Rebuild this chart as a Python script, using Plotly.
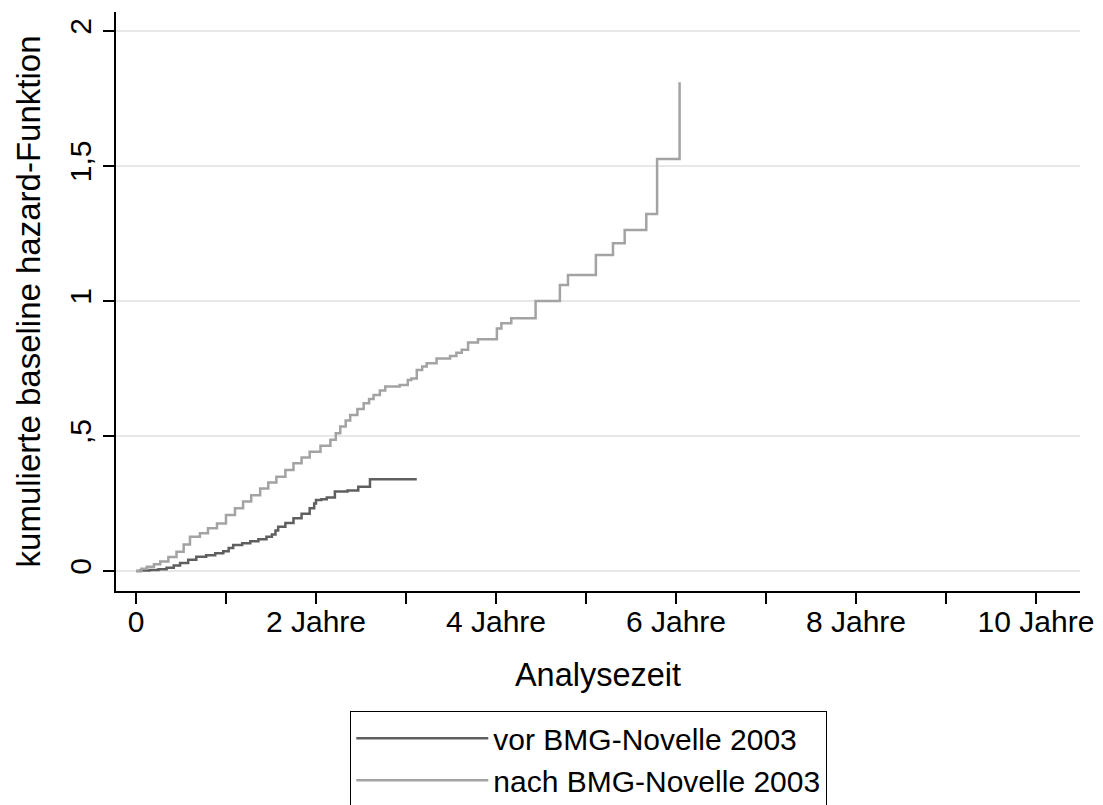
import plotly.graph_objects as go

# Data (analysis time in years, cumulative baseline hazard)
vor_t = [0.00, 0.05, 0.15, 0.25, 0.34, 0.42, 0.49, 0.58, 0.67, 0.78, 0.88, 0.97,
         1.03, 1.08, 1.18, 1.27, 1.36, 1.45, 1.51, 1.55, 1.58, 1.66, 1.75, 1.84,
         1.93, 1.98, 2.00, 2.06, 2.12, 2.21, 2.35, 2.47, 2.60, 3.12]
vor_h = [0.000, 0.002, 0.004, 0.007, 0.012, 0.020, 0.030, 0.042, 0.053, 0.058, 0.066, 0.073,
         0.085, 0.096, 0.103, 0.110, 0.118, 0.127, 0.135, 0.150, 0.164, 0.178, 0.195, 0.212,
         0.232, 0.250, 0.263, 0.266, 0.272, 0.294, 0.298, 0.312, 0.340, 0.340]

nach_t = [0.00, 0.06, 0.12, 0.20, 0.27, 0.36, 0.45, 0.53, 0.60, 0.71, 0.80, 0.90,
          1.00, 1.10, 1.19, 1.28, 1.38, 1.47, 1.56, 1.66, 1.75, 1.84, 1.93, 2.05,
          2.16, 2.22, 2.27, 2.33, 2.38, 2.46, 2.53, 2.59, 2.64, 2.71, 2.77, 2.93,
          3.02, 3.06, 3.12, 3.18, 3.23, 3.34, 3.49, 3.56, 3.62, 3.69, 3.80, 4.01,
          4.06, 4.17, 4.44, 4.71, 4.80, 5.11, 5.30, 5.43, 5.67, 5.79, 6.04]
nach_h = [0.000, 0.008, 0.016, 0.025, 0.035, 0.052, 0.071, 0.098, 0.127, 0.140, 0.158, 0.176,
          0.207, 0.232, 0.257, 0.281, 0.306, 0.328, 0.349, 0.374, 0.399, 0.420, 0.442, 0.464,
          0.486, 0.510, 0.535, 0.557, 0.578, 0.600, 0.621, 0.637, 0.652, 0.668, 0.683, 0.689,
          0.707, 0.713, 0.744, 0.757, 0.769, 0.787, 0.796, 0.808, 0.819, 0.846, 0.858, 0.898,
          0.917, 0.936, 1.000, 1.059, 1.096, 1.170, 1.214, 1.263, 1.322, 1.526, 1.810]

series_names = ["vor BMG-Novelle 2003", "nach BMG-Novelle 2003"]
x_tickvals = [0, 1, 2, 3, 4, 5, 6, 7, 8, 9, 10]
x_ticktext = ["0", "", "2 Jahre", "", "4 Jahre", "", "6 Jahre", "", "8 Jahre", "", "10 Jahre"]
y_tickvals = [0, 0.5, 1, 1.5, 2]
y_ticktext = ["0", ",5", "1", "1,5", "2"]

FONT = "Liberation Sans, Arial, Helvetica, sans-serif"

# page has an 8px body margin; plot area in page px: x 116..1080, y 12..591
L, T = 108, 4
PW, PH = 964, 579

fig = go.Figure()
fig.add_trace(go.Scatter(x=vor_t, y=vor_h, mode="lines", line_shape="hv",
                         line=dict(color="#5f5f5f", width=2.5), name=series_names[0]))
fig.add_trace(go.Scatter(x=nach_t, y=nach_h, mode="lines", line_shape="hv",
                         line=dict(color="#a3a3a3", width=2.5), name=series_names[1]))

fig.update_layout(
    width=1103, height=805,
    margin=dict(l=L, r=1103 - L - PW, t=T, b=805 - T - PH, autoexpand=False),
    paper_bgcolor="white", plot_bgcolor="white",
    font=dict(family=FONT, color="black", size=30),
    showlegend=True,
    legend=dict(
        x=(350 - 116) / PW, xanchor="left",
        y=(591 - 711) / PH, yanchor="top",
        bordercolor="black", borderwidth=1.3,
        bgcolor="white",
        font=dict(family=FONT, size=30, color="black"),
        itemwidth=132,
        entrywidth=380, entrywidthmode="pixels",
        tracegroupgap=0,
    ),
    xaxis=dict(
        range=[-0.222, 10.489],
        tickmode="array", tickvals=x_tickvals, ticktext=x_ticktext,
        ticks="outside", ticklen=11, tickwidth=1.5, tickcolor="black",
        showline=True, linecolor="black", linewidth=1.5,
        showgrid=False, zeroline=False,
        tickfont=dict(family=FONT, size=30),
        ticklabelstandoff=-8,
        title=dict(text="Analysezeit", font=dict(family=FONT, size=32.5), standoff=26),
    ),
    yaxis=dict(
        range=[-0.074, 2.070],
        tickmode="array", tickvals=y_tickvals, ticktext=y_ticktext,
        tickangle=-90,
        ticks="outside", ticklen=11, tickwidth=1.5, tickcolor="black",
        showline=True, linecolor="black", linewidth=1.5,
        showgrid=True, gridcolor="#e8e8e8", gridwidth=2,
        zeroline=False,
        tickfont=dict(family=FONT, size=30),
        title=dict(text="kumulierte baseline hazard-Funktion", font=dict(family=FONT, size=33), standoff=14),
    ),
)

fig.write_html("out.html")
